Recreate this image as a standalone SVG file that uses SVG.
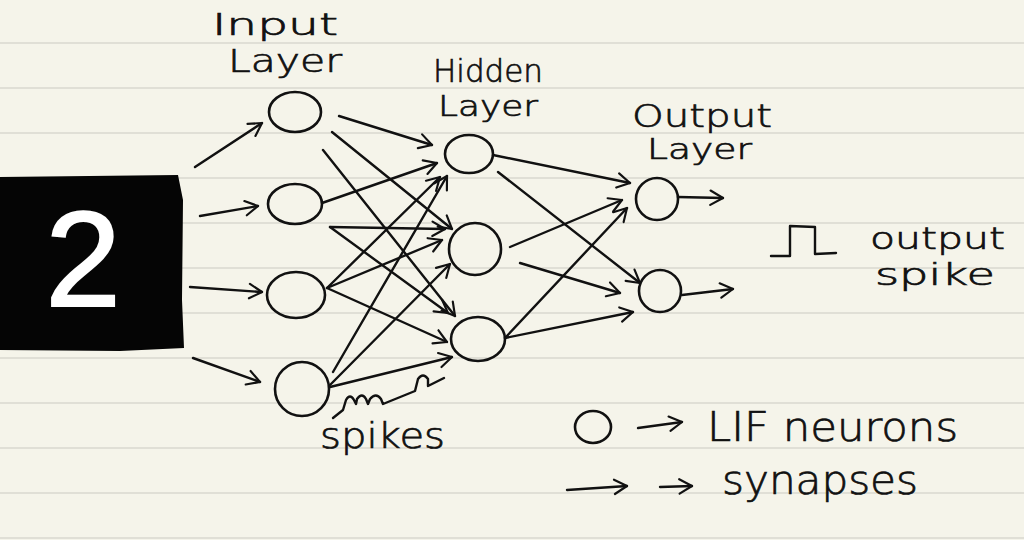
<svg xmlns="http://www.w3.org/2000/svg" width="1024" height="540" viewBox="0 0 1024 540">
<style>
.rule{stroke:#d8d8cf;stroke-width:1.5}
.n{fill:none;stroke:#111;stroke-width:2.6}
.c{fill:none;stroke:#111;stroke-width:2.4;stroke-linecap:round;stroke-linejoin:round}
.t{font-family:"DejaVu Sans","Liberation Sans",Arial,sans-serif;fill:#111;font-weight:200;stroke:#111;stroke-width:0.7}
</style>
<defs>
<marker id="ah" viewBox="0 0 20 20" refX="18" refY="10" markerWidth="18" markerHeight="18" markerUnits="userSpaceOnUse" orient="auto">
<path d="M4,2 L18,10 L4,18" fill="none" stroke="#111" stroke-width="2.4" stroke-linecap="round" stroke-linejoin="round"/>
</marker>
</defs>
<rect width="1024" height="540" fill="#f5f4ea"/>
<g id="ruled">
<line class="rule" x1="0" y1="43" x2="1024" y2="43"/>
<line class="rule" x1="0" y1="88" x2="1024" y2="88"/>
<line class="rule" x1="0" y1="133" x2="1024" y2="133"/>
<line class="rule" x1="0" y1="178" x2="1024" y2="178"/>
<line class="rule" x1="0" y1="223" x2="1024" y2="223"/>
<line class="rule" x1="0" y1="268" x2="1024" y2="268"/>
<line class="rule" x1="0" y1="313" x2="1024" y2="313"/>
<line class="rule" x1="0" y1="358" x2="1024" y2="358"/>
<line class="rule" x1="0" y1="403" x2="1024" y2="403"/>
<line class="rule" x1="0" y1="448" x2="1024" y2="448"/>
<line class="rule" x1="0" y1="493" x2="1024" y2="493"/>
<line class="rule" x1="0" y1="538" x2="1024" y2="538"/>
</g>
<g id="input-image">
<path d="M0,177 L178,175 L183,200 L182,300 L184,348 L120,351 L0,350 Z" fill="#050505"/>
<text x="83" y="306" text-anchor="middle" font-family="Liberation Sans, Arial, sans-serif" font-size="136" fill="#fff" stroke="#fff" stroke-width="2">2</text>
</g>
<g id="labels">
<text class="t" x="212" y="35" font-size="30" textLength="126" lengthAdjust="spacingAndGlyphs">Input</text>
<text class="t" x="228" y="72" font-size="32" textLength="114" lengthAdjust="spacingAndGlyphs">Layer</text>
<text class="t" x="433" y="82" font-size="32" textLength="110" lengthAdjust="spacingAndGlyphs">Hidden</text>
<text class="t" x="438" y="116" font-size="29" textLength="100" lengthAdjust="spacingAndGlyphs">Layer</text>
<text class="t" x="632" y="127" font-size="32" textLength="140" lengthAdjust="spacingAndGlyphs">Output</text>
<text class="t" x="647" y="159" font-size="28" textLength="105" lengthAdjust="spacingAndGlyphs">Layer</text>
<text class="t" x="870" y="249" font-size="30" textLength="135" lengthAdjust="spacingAndGlyphs">output</text>
<text class="t" x="875" y="285" font-size="30" textLength="120" lengthAdjust="spacingAndGlyphs">spike</text>
<text class="t" x="320" y="448" font-size="36" textLength="125" lengthAdjust="spacingAndGlyphs">spikes</text>
<text class="t" x="707" y="441" font-size="40" textLength="251" lengthAdjust="spacingAndGlyphs">LIF neurons</text>
<text class="t" x="722" y="494" font-size="40" textLength="196" lengthAdjust="spacingAndGlyphs">synapses</text>
</g>
<g id="input-layer">
<ellipse id="i1" class="n" cx="295" cy="112" rx="26" ry="20"/>
<ellipse id="i2" class="n" cx="295" cy="204" rx="27" ry="20"/>
<ellipse id="i3" class="n" cx="296" cy="295" rx="29" ry="23"/>
<ellipse id="i4" class="n" cx="302" cy="389" rx="27" ry="27"/>
</g>
<g id="hidden-layer">
<ellipse id="h1" class="n" cx="469" cy="154" rx="24" ry="19"/>
<ellipse id="h2" class="n" cx="475" cy="249" rx="26" ry="26"/>
<ellipse id="h3" class="n" cx="478" cy="339" rx="27" ry="22"/>
</g>
<g id="output-layer">
<ellipse id="o1" class="n" cx="657" cy="199" rx="21" ry="21"/>
<ellipse id="o2" class="n" cx="660" cy="291" rx="21" ry="21"/>
</g>
<g id="legend">
<ellipse id="legend-neuron" class="n" cx="593" cy="427" rx="18" ry="16"/>
<path id="output-pulse" class="c" d="M771,256 L790,256 L790,226 L815,227 L815,254 L836,253"/>
<path id="spike-train" class="c" d="M333,418 L343,410 L346,400 Q350,393 354,400 L356,404 L357,399 Q362,392 366,399 L368,404 L370,399 Q376,392 381,399 L383,404 L415,391 L418,379 Q423,372 428,379 L428,386 L444,378"/>
</g>
<g id="connectors" class="c" marker-end="url(#ah)">
<path d="M195,167 L262,123"/>
<path d="M200,216 L258,206"/>
<path d="M190,287 L262,292"/>
<path d="M193,358 L260,382"/>
<path d="M339,116 L432,145"/>
<path d="M332,132 L452,229"/>
<path d="M323,150 L455,316"/>
<path d="M322,203 L437,163"/>
<path d="M330,227 L445,229"/>
<path d="M330,227 L448,313"/>
<path d="M327,288 L440,177"/>
<path d="M327,288 L442,240"/>
<path d="M327,288 L447,342"/>
<path d="M333,372 L447,176"/>
<path d="M330,385 L450,264"/>
<path d="M330,387 L452,357"/>
<path d="M493,155 L630,183"/>
<path d="M498,172 L640,283"/>
<path d="M510,247 L622,200"/>
<path d="M520,263 L620,293"/>
<path d="M505,338 L627,208"/>
<path d="M505,338 L633,312"/>
<path d="M678,197 L723,198"/>
<path d="M682,295 L733,289"/>
<path d="M638,428 L682,422"/>
<path d="M567,490 L627,486"/>
<path d="M660,487 L692,486"/>
</g>
</svg>
